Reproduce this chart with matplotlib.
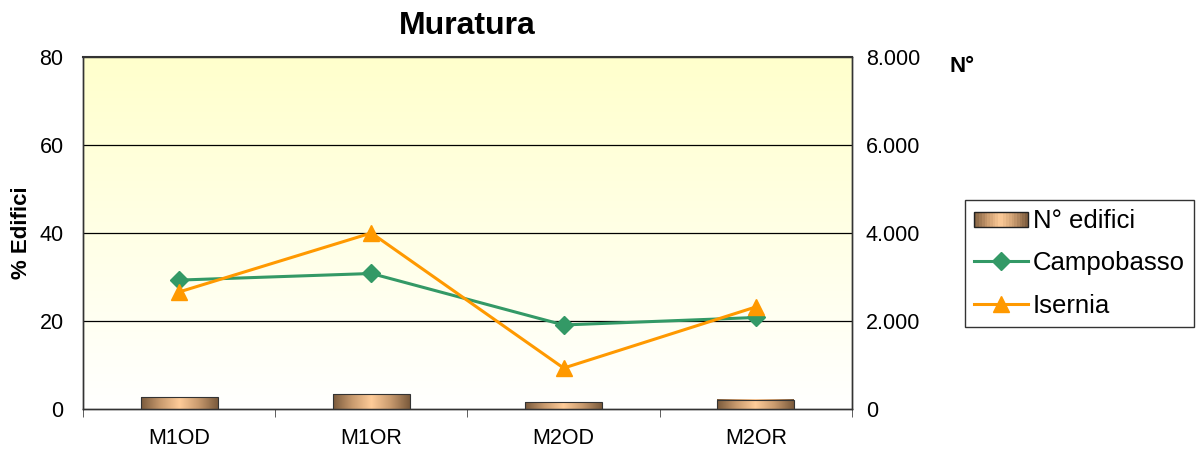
import numpy as np
import matplotlib
matplotlib.use('Agg')
import matplotlib.pyplot as plt
from matplotlib.colors import LinearSegmentedColormap
from matplotlib.patches import Rectangle
from matplotlib.lines import Line2D
from matplotlib.legend_handler import HandlerBase
from matplotlib.ticker import FuncFormatter

plt.rcParams['font.family'] = ['Liberation Sans', 'DejaVu Sans']

categories = ['M1OD', 'M1OR', 'M2OD', 'M2OR']
n_edifici = [265, 330, 150, 205]
campobasso = [29.3, 30.8, 19.1, 20.8]
isernia = [26.6, 40.0, 9.3, 23.2]

bar_cmap = LinearSegmentedColormap.from_list(
    'bar', ['#7a5a3c', '#c89a6e', '#ffcc99', '#c89a6e', '#7a5a3c'])
bg_cmap = LinearSegmentedColormap.from_list('bg', ['#ffffff', '#ffffcc'])


class GradientBarHandler(HandlerBase):
    def create_artists(self, legend, orig_handle, xdescent, ydescent,
                       width, height, fontsize, trans):
        arts = []
        n = 20
        y0 = -ydescent + height * 0.05
        h = height * 0.8
        for i in range(n):
            c = bar_cmap((i + 0.5) / n)
            r = Rectangle((-xdescent + width * i / n, y0), width / n + 0.3,
                          h, facecolor=c, edgecolor='none', transform=trans)
            arts.append(r)
        arts.append(Rectangle((-xdescent, y0), width, h,
                              facecolor='none', edgecolor='#222222', lw=1,
                              transform=trans))
        return arts


fig = plt.figure(figsize=(11.97, 4.51), dpi=100)
ax = fig.add_axes([0.0693, 0.0931, 0.6425, 0.7805])
ax2 = ax.twinx()

x = np.arange(len(categories))

# background gradient
grad = np.linspace(0, 1, 256).reshape(-1, 1)
ax.imshow(grad, aspect='auto', cmap=bg_cmap, origin='lower',
          extent=[-0.5, 3.5, 0, 80], zorder=0)

# gridlines
for yv in [20, 40, 60]:
    ax.axhline(yv, color='black', lw=0.9, zorder=1)

# bars on right axis, drawn with horizontal gradient
bw = 0.4
ax2.set_ylim(0, 8000)
bars = ax2.bar(x, n_edifici, width=bw, color='none', edgecolor='#333333',
               lw=0.8, zorder=3)
hgrad = np.linspace(0, 1, 256).reshape(1, -1)
for b in bars:
    bx, by = b.get_x(), b.get_y()
    ax2.imshow(hgrad, aspect='auto', cmap=bar_cmap,
               extent=[bx, bx + b.get_width(), by, by + b.get_height()],
               zorder=2)
ax2.set_xlim(-0.5, 3.5)

ax.set_zorder(ax2.get_zorder() - 1)
ax.patch.set_visible(False)
ax2.patch.set_visible(False)

# lines belong to the left axis (%), drawn on ax2 scaled so they sit on top
scale = 8000 / 80
ax2.plot(x, [v * scale for v in campobasso], color='#339966', lw=2.2,
         marker='D', markersize=9, zorder=5)
ax2.plot(x, [v * scale for v in isernia], color='#ff9900', lw=2.2,
         marker='^', markersize=12, zorder=6)

ax.set_xlim(-0.5, 3.5)
ax.set_ylim(0, 80)
ax.set_yticks([0, 20, 40, 60, 80])
ax.set_xticks(x)
ax.set_xticklabels(categories, fontsize=15.5)
ax.set_xticks(np.arange(-0.5, 4, 1), minor=True)
ax.tick_params(axis='x', which='major', length=0, pad=14)
ax.tick_params(axis='x', which='minor', length=6, color='#444444')
ax.tick_params(axis='y', length=0, labelsize=15.5, pad=14)
ax.set_ylabel('% Edifici', fontsize=16, fontweight='bold', labelpad=5)

ax2.set_yticks([0, 2000, 4000, 6000, 8000])
ax2.yaxis.set_major_formatter(FuncFormatter(
    lambda v, p: '0' if v == 0 else '{:,.0f}'.format(v).replace(',', '.')))
ax2.tick_params(axis='y', length=0, labelsize=15.5, pad=10)

for a in (ax, ax2):
    for s in a.spines.values():
        s.set_color('#333333')
        s.set_linewidth(1.0)
ax.spines['top'].set_linewidth(1.5)

fig.text(0.5 * (0.0693 + 0.7118), 0.942, 'Muratura', ha='center', va='center',
         fontsize=23, fontweight='bold')
fig.text(0.804, 0.852, 'N°', ha='center', va='center', fontsize=16,
         fontweight='bold')

handles = [Rectangle((0, 0), 1, 1),
           Line2D([], [], color='#339966', lw=2.2, marker='D', markersize=9),
           Line2D([], [], color='#ff9900', lw=2.2, marker='^', markersize=12)]
labels = ['N° edifici', 'Campobasso', 'Isernia']
leg = fig.legend(handles, labels, loc='upper left',
                 bbox_to_anchor=(0.806, 0.557), fontsize=18.5, frameon=True,
                 fancybox=False, edgecolor='black', handlelength=2.1,
                 handletextpad=0.2, borderpad=0.35, labelspacing=0.72,
                 borderaxespad=0,
                 handler_map={Rectangle: GradientBarHandler()})
leg.get_frame().set_linewidth(1.0)

fig.savefig('out.png', dpi=100)
